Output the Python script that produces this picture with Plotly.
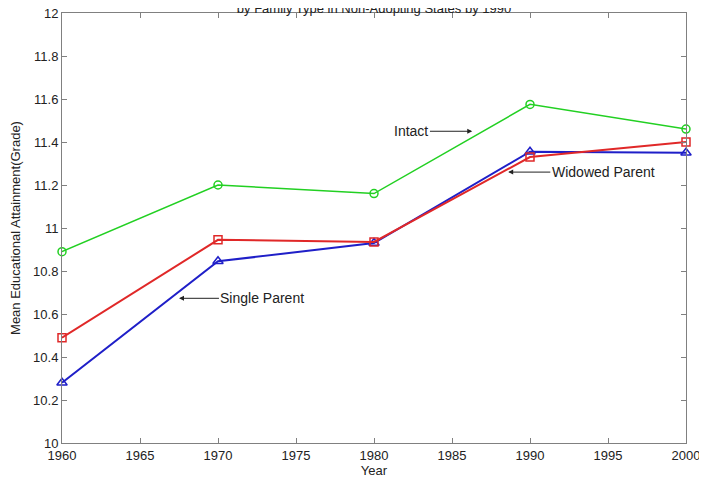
import plotly.graph_objects as go

years = [1960, 1970, 1980, 1990, 2000]
intact = [10.89, 11.20, 11.16, 11.575, 11.46]
widowed = [10.49, 10.945, 10.935, 11.33, 11.40]
single = [10.28, 10.845, 10.93, 11.355, 11.35]

x_ticks = [1960, 1965, 1970, 1975, 1980, 1985, 1990, 1995, 2000]
y_ticks = [10, 10.2, 10.4, 10.6, 10.8, 11, 11.2, 11.4, 11.6, 11.8, 12]
y_tick_text = ["10", "10.2", "10.4", "10.6", "10.8", "11", "11.2", "11.4", "11.6", "11.8", "12"]

title_text = "by Family Type in Non-Adopting States by 1990"

FONT = "Liberation Sans, Arial"
TXT = "#222222"

fig = go.Figure()
fig.add_trace(go.Scatter(x=years, y=intact, mode="lines+markers", name="Intact",
                         line=dict(color="#22d022", width=1.5),
                         marker=dict(symbol="circle-open", size=8, color="#22d022", line=dict(width=1.5))))
fig.add_trace(go.Scatter(x=years, y=single, mode="lines+markers", name="Single Parent",
                         line=dict(color="#1f1fc8", width=2),
                         marker=dict(symbol="triangle-up-open", size=9, color="#1f1fc8", line=dict(width=1.5))))
fig.add_trace(go.Scatter(x=years, y=widowed, mode="lines+markers", name="Widowed Parent",
                         line=dict(color="#e02828", width=2),
                         marker=dict(symbol="square-open", size=8, color="#e02828", line=dict(width=1.5))))

font_ann = dict(family=FONT, size=14, color=TXT)
arrow_common = dict(xref="x", yref="y", axref="x", ayref="y", showarrow=True,
                    arrowhead=2, arrowsize=1, arrowwidth=1, arrowcolor=TXT,
                    font=font_ann)
fig.add_annotation(x=1986.3, y=11.45, ax=1982.4, ay=11.45, text="Intact", **arrow_common)
fig.add_annotation(x=1988.6, y=11.26, ax=1994.7, ay=11.26, text="Widowed Parent", **arrow_common)
fig.add_annotation(x=1967.5, y=10.673, ax=1972.85, ay=10.673, text="Single Parent", **arrow_common)

axis_common = dict(showgrid=False, zeroline=False, showline=True, linecolor="#808080", linewidth=1,
                   mirror="ticks", ticks="inside", ticklen=5, tickcolor="#808080", automargin=False,
                   ticklabeloverflow="allow",
                   tickfont=dict(family=FONT, size=13, color=TXT))

fig.update_layout(
    width=707, height=478,
    margin=dict(l=54, r=29, t=5, b=43, autoexpand=False),
    paper_bgcolor="white", plot_bgcolor="white",
    showlegend=False,
    title=dict(text=title_text, x=0.5, xref="paper", y=1.0, yref="container", yanchor="middle",
               automargin=False,
               font=dict(family=FONT, size=13, color=TXT)),
    xaxis=dict(range=[1960, 2000], tickvals=x_ticks, title=dict(text="Year", standoff=1,
               font=dict(family=FONT, size=13, color=TXT)), **axis_common),
    yaxis=dict(range=[10, 12], tickvals=y_ticks, ticktext=y_tick_text,
               title=dict(text="Mean Educational Attainment(Grade)", standoff=14,
                          font=dict(family=FONT, size=13, color=TXT)), **axis_common),
)
fig.update_traces(cliponaxis=False)

fig.write_html("out.html")
